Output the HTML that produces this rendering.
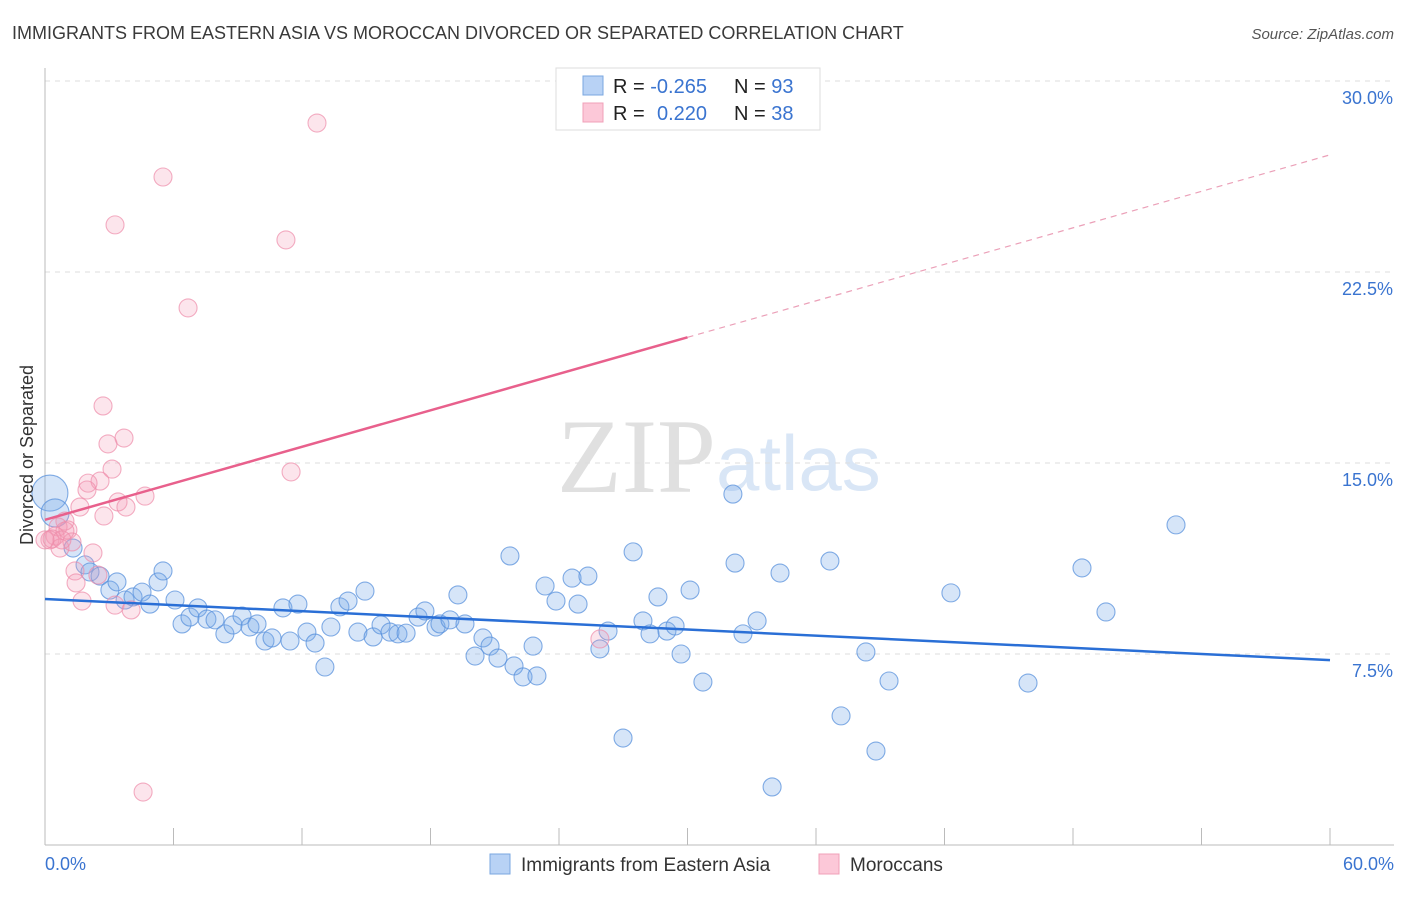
<!DOCTYPE html>
<html><head><meta charset="utf-8"><style>
body{margin:0;background:#fff;font-family:"Liberation Sans",sans-serif}
</style></head><body>
<svg id="c" width="1406" height="892" xmlns="http://www.w3.org/2000/svg">
<text x="12" y="39" font-size="18" fill="#3a3a3a">IMMIGRANTS FROM EASTERN ASIA VS MOROCCAN DIVORCED OR SEPARATED CORRELATION CHART</text>
<text x="1394" y="39" font-size="15" fill="#555" font-style="italic" text-anchor="end">Source: ZipAtlas.com</text>
<text x="716" y="492" font-size="106" fill="#e0e0e0" text-anchor="end" font-family="Liberation Serif,serif">ZIP</text>
<text x="716" y="490" font-size="78" fill="#d9e6f6">atlas</text>
<g id="grid"></g>
<g id="axes"></g>
<g id="pts"></g>
<g id="lines"></g>
<text transform="translate(33,455) rotate(-90)" font-size="18" fill="#333" text-anchor="middle">Divorced or Separated</text>
<g>
<rect x="556" y="68" width="264" height="62" fill="#fff" stroke="#ddd"/>
<rect x="583" y="76" width="20" height="19" fill="#b8d2f5" stroke="#7aa7e0"/>
<rect x="583" y="103" width="20" height="19" fill="#fcc8d8" stroke="#f0a0b8"/>
<text x="613" y="93" font-size="20" fill="#222">R = <tspan fill="#3a74d0">-0.265</tspan><tspan x="734">N = </tspan><tspan fill="#3a74d0">93</tspan></text>
<text x="613" y="120" font-size="20" fill="#222">R = <tspan x="657" fill="#3a74d0">0.220</tspan><tspan x="734">N = </tspan><tspan fill="#3a74d0">38</tspan></text>
</g>
<g>
<rect x="490" y="854" width="20" height="20" fill="#b8d2f5" stroke="#7aa7e0"/>
<text x="521" y="871" font-size="19" fill="#333">Immigrants from Eastern Asia</text>
<rect x="819" y="854" width="20" height="20" fill="#fcc8d8" stroke="#f0a0b8"/>
<text x="850" y="871" font-size="19" fill="#333">Moroccans</text>
</g>
</svg>
<script>
const yTicks=[7.5,15,22.5,30];
const yTickLabels=["7.5%","15.0%","22.5%","30.0%"];
const xTicks=[0,6,12,18,24,30,36,42,48,54,60];
const blueX=[0.23,0.47,1.31,1.87,2.10,2.57,3.03,3.36,3.74,4.11,4.53,4.90,5.28,5.51,6.07,6.40,6.77,7.14,7.56,7.94,8.40,8.78,9.20,9.57,9.90,10.27,10.60,11.11,11.44,11.81,12.23,12.61,13.07,13.35,13.77,14.15,14.61,14.94,15.32,15.69,16.11,16.48,16.86,17.42,17.74,18.26,18.44,18.91,19.28,19.61,20.08,20.45,20.78,21.15,21.71,21.90,22.32,22.97,22.79,23.35,23.86,24.61,24.89,25.35,25.91,26.29,26.99,27.46,27.92,28.25,28.62,29.04,29.42,29.70,30.12,30.72,32.12,32.22,32.59,33.25,33.95,34.32,36.65,37.17,38.33,38.80,39.41,42.30,45.90,48.42,49.54,52.81];
const blueY=[13.82,13.04,11.66,11.00,10.72,10.56,10.01,10.33,9.62,9.74,9.93,9.46,10.33,10.76,9.62,8.68,8.95,9.31,8.87,8.84,8.29,8.64,8.99,8.56,8.68,8.01,8.13,9.31,8.01,9.46,8.36,7.93,6.99,8.56,9.35,9.58,8.36,9.97,8.17,8.64,8.36,8.29,8.32,8.95,9.19,8.56,8.68,8.84,9.82,8.68,7.42,8.13,7.81,7.34,11.35,7.03,6.60,6.64,7.81,10.17,9.58,10.48,9.46,10.56,7.70,8.40,4.20,11.51,8.80,8.29,9.74,8.40,8.60,7.50,10.01,6.40,13.78,11.07,8.29,8.80,2.28,10.68,11.15,5.07,7.58,3.69,6.44,9.90,6.36,10.88,9.15,12.57];
const pinkX=[12.70,5.51,3.27,11.25,6.68,2.71,3.69,2.94,11.49,3.13,2.57,2.01,1.96,4.67,3.41,3.78,1.63,2.75,0.93,0.61,1.07,0.47,0.23,0.70,1.26,2.24,1.40,2.47,1.45,3.27,1.73,4.02,4.58,25.91,0.93,0.33,0.79,0];
const pinkY=[28.35,26.23,24.35,23.76,21.09,17.24,15.98,15.75,14.65,14.76,14.29,14.21,13.94,13.70,13.47,13.27,13.27,12.92,12.72,12.49,12.37,12.13,11.98,11.66,11.90,11.47,10.76,10.60,10.29,9.42,9.58,9.23,2.08,8.09,12.33,12.02,11.98,11.98];
const blueTrend=[9.66,7.26];   // value at x=0, x=60
const pinkTrend=[12.77,27.1];
const NS="http://www.w3.org/2000/svg";
const X=v=>45+v/60*1285, Y=v=>845-v/7.5*191;
function mk(t,a,p){const e=document.createElementNS(NS,t);for(const k in a)e.setAttribute(k,a[k]);document.getElementById(p).appendChild(e);return e;}
yTicks.forEach((t,i)=>{
 const l=mk('line',{x1:45,x2:1394,y1:Y(t),y2:Y(t),stroke:'#ddd','stroke-dasharray':'5,5'},'grid');
 
 
 const tx=mk('text',{x:1393,y:Y(t)+23,'font-size':18,fill:'#3a74d0','text-anchor':'end'},'grid');tx.textContent=yTickLabels[i];
 
 
});
mk('line',{x1:45,x2:45,y1:68,y2:845,stroke:'#bbb'},'axes');
mk('line',{x1:45,x2:1394,y1:845,y2:845,stroke:'#bbb'},'axes');
xTicks.forEach(t=>{const l=mk('line',{x1:X(t),x2:X(t),y1:828,y2:845,stroke:'#bbb'},'axes');
 
 });
const xl=mk('text',{x:45,y:870,'font-size':18,fill:'#3a74d0'},'axes');xl.textContent='0.0%';


const xr=mk('text',{x:1394,y:870,'font-size':18,fill:'#3a74d0','text-anchor':'end'},'axes');xr.textContent='60.0%';


blueX.forEach((x,i)=>{const r=i==0?18:(i==1?14:9);
 const c=mk('circle',{cx:X(x),cy:Y(blueY[i]),r:r,fill:'rgba(120,168,232,0.3)',stroke:'rgba(90,145,220,0.75)','stroke-width':1.1},'pts');
 
 });
pinkX.forEach((x,i)=>{
 const c=mk('circle',{cx:X(x),cy:Y(pinkY[i]),r:9,fill:'rgba(245,150,178,0.25)',stroke:'rgba(238,140,170,0.7)','stroke-width':1.1},'pts');
 
 });
const bl=mk('line',{x1:X(0),y1:Y(blueTrend[0]),x2:X(60),y2:Y(blueTrend[1]),stroke:'#2a6fd6','stroke-width':2.5},'lines');


const pm=pinkTrend[0]+(pinkTrend[1]-pinkTrend[0])/2;
const pl=mk('line',{x1:X(0),y1:Y(pinkTrend[0]),x2:X(30),y2:Y(pm),stroke:'#e8608c','stroke-width':2.5},'lines');


const pd=mk('line',{x1:X(30),y1:Y(pm),x2:X(60),y2:Y(pinkTrend[1]),stroke:'#eba0b8','stroke-width':1.2,'stroke-dasharray':'6,5'},'lines');


</script>
</body></html>
